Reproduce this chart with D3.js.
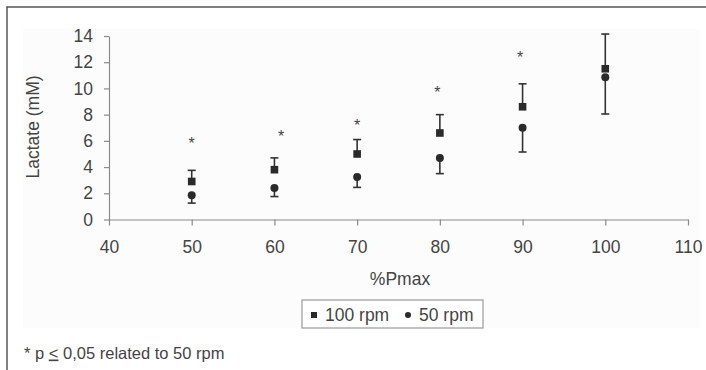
<!DOCTYPE html>
<html>
<head>
<meta charset="utf-8">
<script src="https://cdn.jsdelivr.net/npm/d3@7"></script>
<style>
  body{margin:0;background:#fff;}
  svg text{font-family:"Liberation Sans",Arial,sans-serif;fill:#444;}
</style>
</head>
<body>
<svg width="706" height="370"></svg>
<script>
// data
const load = [50, 60, 70, 80, 90, 100];
const rpm100 = [2.9, 3.8, 5.0, 6.6, 8.6, 11.5];
const rpm100Err = [0.85, 0.9, 1.1, 1.4, 1.75, 2.65];
const rpm50 = [1.85, 2.4, 3.25, 4.7, 7.0, 10.85];
const rpm50Err = [0.6, 0.65, 0.8, 1.2, 1.85, 2.8];
const starX = [50, 60.8, 70, 79.7, 89.7];
const starY = [5.95, 6.45, 7.3, 9.8, 12.5];
const xTicks = [40, 50, 60, 70, 80, 90, 100, 110];
const yTicks = [0, 2, 4, 6, 8, 10, 12, 14];

const svg = d3.select('svg');
const fs = '17.5px';

// outer frame (runs off right/bottom edge)
svg.append('rect').attr('x', 7).attr('y', 7).attr('width', 720).attr('height', 400)
   .attr('fill', 'none').attr('stroke', '#555').attr('stroke-width', 1.5);
// light plot background
svg.append('rect').attr('x', 23).attr('y', 29).attr('width', 677).attr('height', 299)
   .attr('fill', '#fcfcfc');

const x = d3.scaleLinear().domain([40, 110]).range([109, 688]);
const y = d3.scaleLinear().domain([0, 14]).range([219.5, 36]);

const g = svg.append('g');

// axes
const xAxis = g.append('g').attr('transform', `translate(0,${y(0)})`)
   .call(d3.axisBottom(x).tickValues(xTicks).tickSize(6).tickPadding(15).tickSizeOuter(0));
const yAxis = g.append('g').attr('transform', `translate(${x(40)},0)`)
   .call(d3.axisLeft(y).tickValues(yTicks).tickSize(5).tickPadding(11).tickSizeOuter(0));
[xAxis, yAxis].forEach(a => {
  a.selectAll('path,line').attr('stroke', '#8a8a8a').attr('stroke-width', 1.2);
  a.selectAll('text').style('font-size', fs).attr('fill', '#444');
});

// error bars: 100 rpm up, 50 rpm down
const cap = 4;
const eb = (vals, errs, dir) => {
  const grp = g.append('g').attr('stroke', '#333').attr('stroke-width', 1.6);
  load.forEach((l, i) => {
    const y0 = y(vals[i]), y1 = y(vals[i] + dir * errs[i]);
    grp.append('line').attr('x1', x(l)).attr('x2', x(l)).attr('y1', y0).attr('y2', y1);
    grp.append('line').attr('x1', x(l) - cap).attr('x2', x(l) + cap).attr('y1', y1).attr('y2', y1);
  });
};
eb(rpm100, rpm100Err, 1);
eb(rpm50, rpm50Err, -1);

// markers
g.selectAll('rect.sq').data(load).enter().append('rect')
  .attr('x', (d) => x(d) - 3.8).attr('y', (d, i) => y(rpm100[i]) - 3.8)
  .attr('width', 7.6).attr('height', 7.6).attr('fill', '#2a2a2a');
g.selectAll('circle.ci').data(load).enter().append('circle')
  .attr('cx', d => x(d)).attr('cy', (d, i) => y(rpm50[i])).attr('r', 4).attr('fill', '#2a2a2a');

// significance stars
g.selectAll('text.star').data(starX).enter().append('text')
  .attr('x', d => x(d)).attr('y', (d, i) => y(starY[i]) + 7)
  .attr('text-anchor', 'middle').style('font-size', '16px').attr('fill', '#555').text('*');

// axis titles
svg.append('text').attr('transform', 'translate(39,127) rotate(-90)')
  .attr('text-anchor', 'middle').style('font-size', fs).text('Lactate (mM)');
svg.append('text').attr('x', 400).attr('y', 285)
  .attr('text-anchor', 'middle').style('font-size', fs).text('%Pmax');

// legend
const lg = svg.append('g');
lg.append('rect').attr('x', 302).attr('y', 300).attr('width', 181).attr('height', 28)
  .attr('fill', '#fff').attr('stroke', '#999').attr('stroke-width', 1.2);
lg.append('rect').attr('x', 311).attr('y', 312).attr('width', 6).attr('height', 6).attr('fill', '#2a2a2a');
lg.append('text').attr('x', 325).attr('y', 321).style('font-size', fs).text('100 rpm');
lg.append('circle').attr('cx', 408).attr('cy', 315).attr('r', 3).attr('fill', '#2a2a2a');
lg.append('text').attr('x', 419).attr('y', 321).style('font-size', fs).text('50 rpm');

// footnote
const fn = svg.append('text').attr('x', 24).attr('y', 358.5).style('font-size', '16.5px');
fn.append('tspan').text('* p ');
fn.append('tspan').attr('text-decoration', 'underline').text('<');
fn.append('tspan').text(' 0,05 related to 50 rpm');
</script>
</body>
</html>
